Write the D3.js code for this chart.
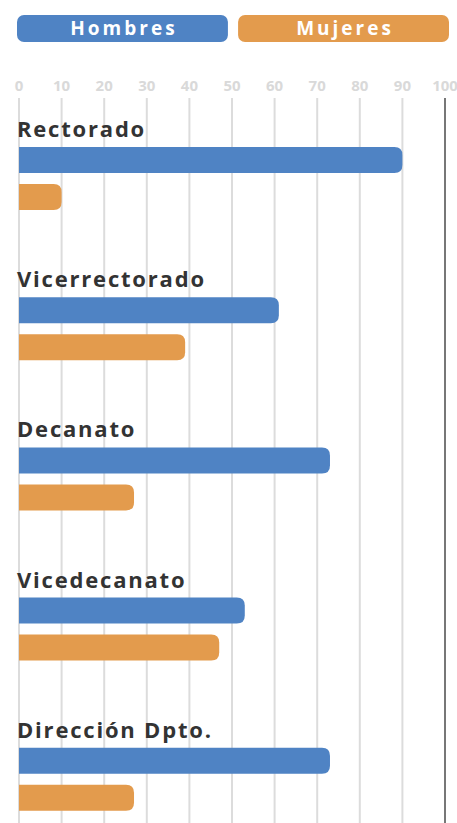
<!DOCTYPE html>
<html>
<head>
<meta charset="utf-8">
<script src="https://cdn.jsdelivr.net/npm/d3@7"></script>
<style>
  html, body { margin: 0; padding: 0; background: #fff; }
  svg { display: block; font-family: "Open Sans", sans-serif; }
</style>
</head>
<body>
<div id="chart"></div>
<script>
// Data
const categories = ["Rectorado", "Vicerrectorado", "Decanato", "Vicedecanato", "Dirección Dpto."];
const series = ["Hombres", "Mujeres"];
const hombres = [90, 61, 73, 53, 73];
const mujeres = [10, 39, 27, 47, 27];
const ticks = [0, 10, 20, 30, 40, 50, 60, 70, 80, 90, 100];

const width = 457, height = 823;
const colors = d3.scaleOrdinal().domain(series).range(["#4f83c4", "#e39b4d"]);

const svg = d3.select("#chart")
              .append("svg")
              .attr("width", width)
              .attr("height", height);

// Legend, two rounded boxes across the top
const legendX = d3.scaleBand()
                  .domain(series)
                  .range([17, 449])
                  .paddingInner(0.046);
const legend = svg.append("g")
                  .selectAll("g")
                  .data(series)
                  .enter()
                  .append("g")
                  .attr("transform", d => "translate(" + legendX(d) + ",15)");
legend.append("rect")
      .attr("width", legendX.bandwidth())
      .attr("height", 27)
      .attr("rx", 7)
      .attr("fill", d => colors(d));
legend.append("text")
      .attr("x", legendX.bandwidth() / 2 + 1.5)
      .attr("y", 20)
      .attr("text-anchor", "middle")
      .attr("fill", "#fff")
      .style("font-size", "19px")
      .style("font-weight", 700)
      .style("letter-spacing", "3px")
      .text(d => d);

// X scale, grid and tick labels
const xScale = d3.scaleLinear()
                 .domain([0, 100])
                 .range([19, 445]);

svg.append("g")
   .selectAll("line")
   .data(ticks)
   .enter()
   .append("line")
   .attr("x1", d => xScale(d))
   .attr("x2", d => xScale(d))
   .attr("y1", 98)
   .attr("y2", height)
   .attr("stroke", d => d === 100 ? "#777" : "#dcdcdc")
   .attr("stroke-width", 2);

svg.append("g")
   .selectAll("text")
   .data(ticks)
   .enter()
   .append("text")
   .attr("x", d => xScale(d))
   .attr("y", 91)
   .attr("text-anchor", "middle")
   .attr("fill", "#d9d9d9")
   .style("font-size", "15px")
   .style("font-weight", 700)
   .text(d => d);

// Groups, one per category
const yScale = d3.scaleBand()
                 .domain(categories)
                 .range([147, 147 + 150.2 * categories.length]);

const barH = 26, barGap = 11, r = 8;

function barPath(x0, x1, y, h) {
    const rr = Math.min(r, (x1 - x0) / 2);
    return "M" + x0 + "," + y +
           "H" + (x1 - rr) +
           "Q" + x1 + "," + y + " " + x1 + "," + (y + rr) +
           "V" + (y + h - rr) +
           "Q" + x1 + "," + (y + h) + " " + (x1 - rr) + "," + (y + h) +
           "H" + x0 + "Z";
}

const groups = svg.append("g")
                  .selectAll("g")
                  .data(categories)
                  .enter()
                  .append("g")
                  .attr("transform", d => "translate(0," + yScale(d) + ")");

groups.append("text")
      .attr("x", 17)
      .attr("y", -10)
      .attr("fill", "#333")
      .style("font-size", "22px")
      .style("font-weight", 700)
      .style("letter-spacing", "1.8px")
      .text(d => d);

groups.append("path")
      .attr("d", (d, i) => barPath(xScale(0), xScale(hombres[i]), 0, barH))
      .attr("fill", colors("Hombres"));

groups.append("path")
      .attr("d", (d, i) => barPath(xScale(0), xScale(mujeres[i]), barH + barGap, barH))
      .attr("fill", colors("Mujeres"));
</script>
</body>
</html>
